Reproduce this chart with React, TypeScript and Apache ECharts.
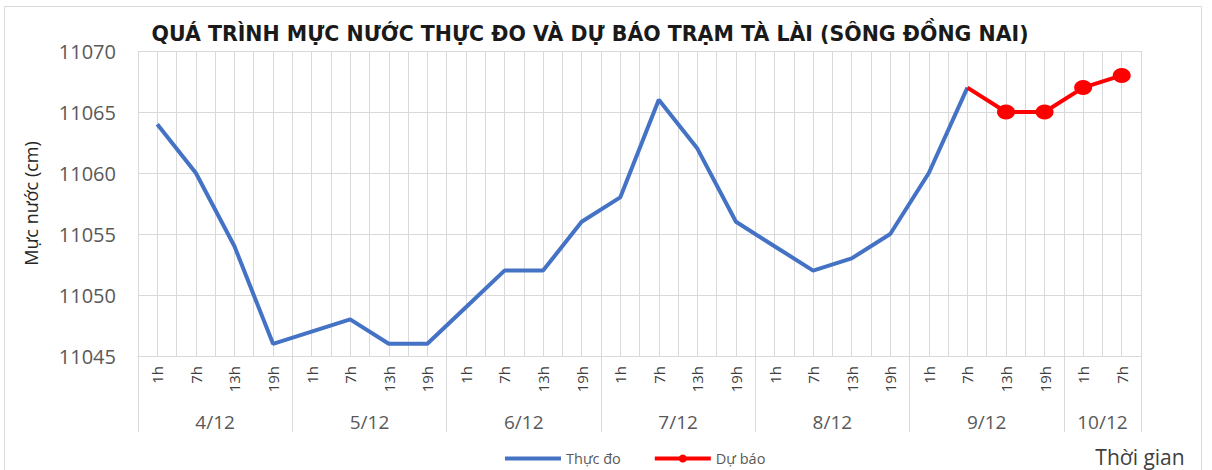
import React, { useEffect, useRef } from "react";
import * as echarts from "echarts";

const titleText = "QUÁ TRÌNH MỰC NƯỚC THỰC ĐO VÀ DỰ BÁO TRẠM TÀ LÀI (SÔNG ĐỒNG NAI)";
const days = ["4/12", "5/12", "6/12", "7/12", "8/12", "9/12", "10/12"];
const hoursPerDay = [
  ["1h", "7h", "13h", "19h"],
  ["1h", "7h", "13h", "19h"],
  ["1h", "7h", "13h", "19h"],
  ["1h", "7h", "13h", "19h"],
  ["1h", "7h", "13h", "19h"],
  ["1h", "7h", "13h", "19h"],
  ["1h", "7h"],
];
const observed = [
  11064, 11060, 11054, 11046,
  11047, 11048, 11046, 11046,
  11049, 11052, 11052, 11056,
  11058, 11066, 11062, 11056,
  11054, 11052, 11053, 11055,
  11060, 11067,
];
// forecast starts at the last observed point (9/12 7h)
const forecastStartIndex = 21;
const forecast = [11067, 11065, 11065, 11067, 11068];
const yTicks = { min: 11045, max: 11070, interval: 5 };

const FONT = "'Open Sans', 'DejaVu Sans', sans-serif";
const TEXT = "#595959";
const GRID = "#d9d9d9";

export default function App() {
  const ref = useRef<HTMLDivElement>(null);
  useEffect(() => {
    if (!ref.current) return;
    const chart = echarts.init(ref.current, undefined, { renderer: "svg" });

    const hourCats: string[] = [];
    hoursPerDay.forEach((hs) => hs.forEach((h) => hourCats.push(h)));
    const n = hourCats.length;

    // half-slot categories for vertical grid lines
    const halfCats: string[] = [];
    for (let i = 0; i < n * 2; i++) halfCats.push("s" + i);

    // day axis: boundaryGap false, n+1 points, labels at group centres
    const dayCats: string[] = [];
    for (let i = 0; i <= n; i++) dayCats.push("");
    const boundaries: number[] = [0];
    let pos = 0;
    hoursPerDay.forEach((hs, d) => {
      const center = pos + hs.length / 2;
      if (Number.isInteger(center)) dayCats[center] = days[d];
      pos += hs.length;
      boundaries.push(pos);
    });

    const obsData: (number | null)[] = hourCats.map((_, i) =>
      i < observed.length ? observed[i] : null
    );
    const fcData: any[] = hourCats.map(() => null);
    forecast.forEach((v, k) => {
      const idx = forecastStartIndex + k;
      fcData[idx] = k === 0 ? { value: v, symbol: "none" } : v;
    });

    chart.setOption({
      animation: false,
      backgroundColor: "#ffffff",
      grid: { left: 138, right: 71, top: 51, bottom: 114, containLabel: false },
      legend: {
        left: 498,
        top: 446,
        itemWidth: 56,
        itemHeight: 10,
        itemGap: 32,
        lineStyle: { width: 4 },
        textStyle: { fontFamily: FONT, fontSize: 14.5, color: TEXT },
        data: [
          { name: "Thực đo", itemStyle: { opacity: 0 } },
          { name: "Dự báo" },
        ],
      },
      xAxis: [
        {
          type: "category",
          position: "bottom",
          data: hourCats,
          boundaryGap: true,
          axisLine: { show: true, onZero: false, lineStyle: { color: GRID, width: 1 } },
          axisTick: { show: false },
          splitLine: { show: false },
          axisLabel: {
            interval: 0,
            rotate: 90,
            margin: 10,
            fontFamily: FONT,
            fontSize: 15,
            color: "#404040",
          },
        },
        {
          type: "category",
          position: "top",
          data: halfCats,
          boundaryGap: true,
          axisLine: { show: false, onZero: false },
          axisTick: { show: false },
          axisLabel: { show: false },
          splitLine: { show: true, interval: 0, lineStyle: { color: GRID, width: 1 } },
        },
        {
          type: "category",
          position: "bottom",
          data: dayCats,
          boundaryGap: false,
          axisLine: { show: false, onZero: false },
          axisTick: {
            show: true,
            interval: (i: number) => boundaries.indexOf(i) >= 0,
            length: 76,
            lineStyle: { color: GRID, width: 1 },
          },
          splitLine: { show: false },
          axisLabel: {
            interval: 0,
            margin: 56,
            fontFamily: FONT,
            fontSize: 19,
            color: TEXT,
          },
        },
      ],
      yAxis: {
        type: "value",
        min: yTicks.min,
        max: yTicks.max,
        interval: yTicks.interval,
        name: "Mực nước (cm)",
        nameLocation: "middle",
        nameRotate: 90,
        nameGap: 98,
        nameTextStyle: { fontFamily: FONT, fontSize: 18, color: "#262626" },
        axisLine: { show: false },
        axisTick: { show: false },
        axisLabel: {
          margin: 22,
          fontFamily: FONT,
          fontSize: 20,
          color: TEXT,
          formatter: (v: number) => String(v),
        },
        splitLine: { show: true, lineStyle: { color: GRID, width: 1 } },
      },
      series: [
        {
          name: "Thực đo",
          type: "line",
          xAxisIndex: 0,
          data: obsData,
          symbol: "none",
          lineStyle: { color: "#4472C4", width: 4 },
          itemStyle: { color: "#4472C4" },
          z: 3,
        },
        {
          name: "Dự báo",
          type: "line",
          xAxisIndex: 0,
          data: fcData,
          symbol: "circle",
          symbolSize: [18, 15],
          lineStyle: { color: "#FF0000", width: 4 },
          itemStyle: { color: "#FF0000" },
          z: 4,
        },
      ],
      graphic: [
        {
          type: "rect",
          shape: { x: 4.5, y: 6.5, width: 1197, height: 470 },
          style: { fill: "none", stroke: GRID, lineWidth: 1 },
          silent: true,
        },
        {
          type: "text",
          x: 590,
          y: 34,
          style: {
            text: titleText,
            align: "center",
            verticalAlign: "middle",
            fontFamily: "'DejaVu Sans', sans-serif",
            fontSize: 20.5,
            fontWeight: "bold",
            fill: "#1a1a1a",
          },
        },
        {
          type: "text",
          x: 1140,
          y: 457,
          style: {
            text: "Thời gian",
            align: "center",
            verticalAlign: "middle",
            fontFamily: FONT,
            fontSize: 21,
            fill: "#404040",
          },
        },
      ],
    });

    return () => chart.dispose();
  }, []);

  return (
    <div
      ref={ref}
      style={{ position: "absolute", left: 0, top: 0, width: 1212, height: 470, background: "#fff" }}
    />
  );
}
